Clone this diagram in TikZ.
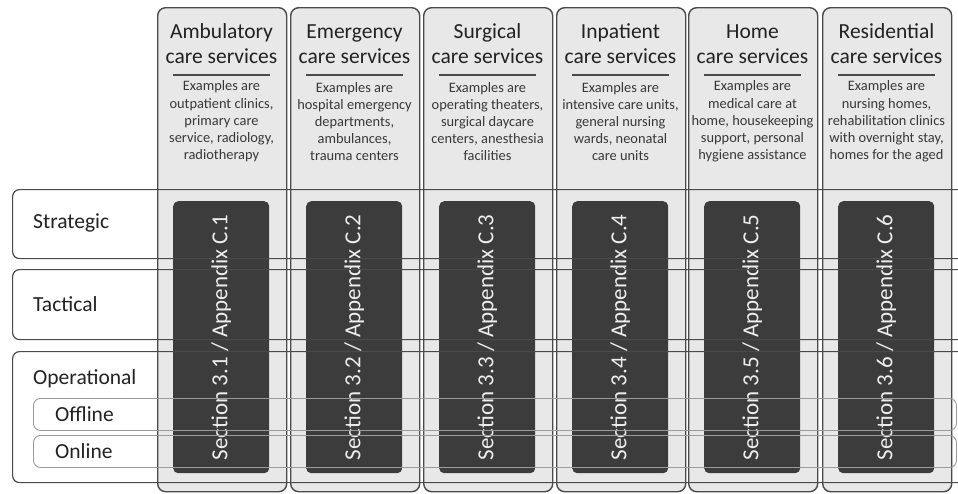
\documentclass[tikz,border=0pt]{standalone}
\usepackage{fontspec}
\setmainfont{Carlito}
\definecolor{colfill}{HTML}{E8E8E8}
\definecolor{coledge}{HTML}{4A4A4A}
\definecolor{darkfill}{HTML}{3C3C3C}
\definecolor{lighttext}{HTML}{EDEDED}
\definecolor{txt}{HTML}{222222}
\definecolor{subedge}{HTML}{9A9A9A}
\tikzset{
  colbox/.style={draw=coledge, line width=1.4pt, fill=colfill, rounded corners=8pt, anchor=north west, minimum width=129pt, minimum height=484pt, inner sep=0pt},
  darkbox/.style={fill=darkfill, rounded corners=5pt, anchor=north west, minimum width=96pt, minimum height=272pt, inner sep=0pt},
  rowbox/.style={draw=coledge, line width=1.2pt, rounded corners=7pt, anchor=north west, minimum width=1000pt, inner sep=0pt},
  subbox/.style={draw=subedge, line width=0.9pt, rounded corners=7pt, anchor=north west, minimum width=923pt, minimum height=32pt, inner sep=0pt},
  titletext/.style={font=\fontsize{21.5}{25}\selectfont, text=txt, align=center, inner sep=0pt},
  desctext/.style={font=\fontsize{14.4}{17.2}\selectfont, text=txt!90, align=center, inner sep=0pt},
  sectext/.style={font=\fontsize{23}{27}\selectfont, text=lighttext, rotate=90, inner sep=0pt},
  rowlabel/.style={font=\fontsize{21.5}{25}\selectfont, text=txt, anchor=west, inner sep=0pt},
  sublabel/.style={font=\fontsize{21.5}{25}\selectfont, text=txt, anchor=west, inner sep=0pt},
  sepline/.style={draw=coledge, line width=1.4pt}
}
\begin{document}
\begin{tikzpicture}[x=1pt,y=-1pt]
\useasboundingbox (0,0) rectangle (958,493);
\fill[white] (0,0) rectangle (958,493);
\begin{scope}
\clip (0,0) rectangle (958,493);
\foreach \i/\x/\t/\d in {
  1/157/{Ambulatory\\care services}/{Examples are\\outpatient clinics,\\primary care\\service, radiology,\\radiotherapy},
  2/290/{Emergency\\care services}/{Examples are\\hospital emergency\\departments,\\ambulances,\\trauma centers},
  3/423/{Surgical\\care services}/{Examples are\\operating theaters,\\surgical daycare\\centers, anesthesia\\facilities},
  4/556/{Inpatient\\care services}/{Examples are\\intensive care units,\\general nursing\\wards, neonatal\\care units},
  5/688/{Home\\care services}/{Examples are\\medical care at\\home, housekeeping\\support, personal\\hygiene assistance},
  6/822/{Residential\\care services}/{Examples are\\nursing homes,\\rehabilitation clinics\\with overnight stay,\\homes for the aged}}
{
  \node[colbox] (col\i) at (\x,7) {};
  \node[titletext] (title\i) at (\x+64.5,44) {\t};
  \coordinate (sepa\i) at (\x+16,75);
  \coordinate (sepb\i) at (\x+113,75);
  \draw[sepline] (sepa\i) -- (sepb\i);
  \node[desctext] (desc\i) at (\x+64.5,121.5) {\d};
  \node[darkbox] (dark\i) at (\x+16,201) {};
  \node[sectext] (sec\i) at (dark\i.center) {Section 3.\i\ / Appendix C.\i};
}
\node[rowbox, minimum height=69pt] (strategic) at (12,189) {};
\node[rowlabel] (strategiclbl) at (33,223) {Strategic};
\node[rowbox, minimum height=70pt] (tactical) at (12,269) {};
\node[rowlabel] (tacticallbl) at (33,304) {Tactical};
\node[rowbox, minimum height=131pt] (operational) at (12,351) {};
\node[rowlabel] (operationallbl) at (33,379) {Operational};
\node[subbox] (offline) at (33,398) {};
\node[sublabel] (offlinelbl) at (55,414.5) {Offline};
\node[subbox] (online) at (33,435) {};
\node[sublabel] (onlinelbl) at (55,451) {Online};
\end{scope}
\end{tikzpicture}
\end{document}
